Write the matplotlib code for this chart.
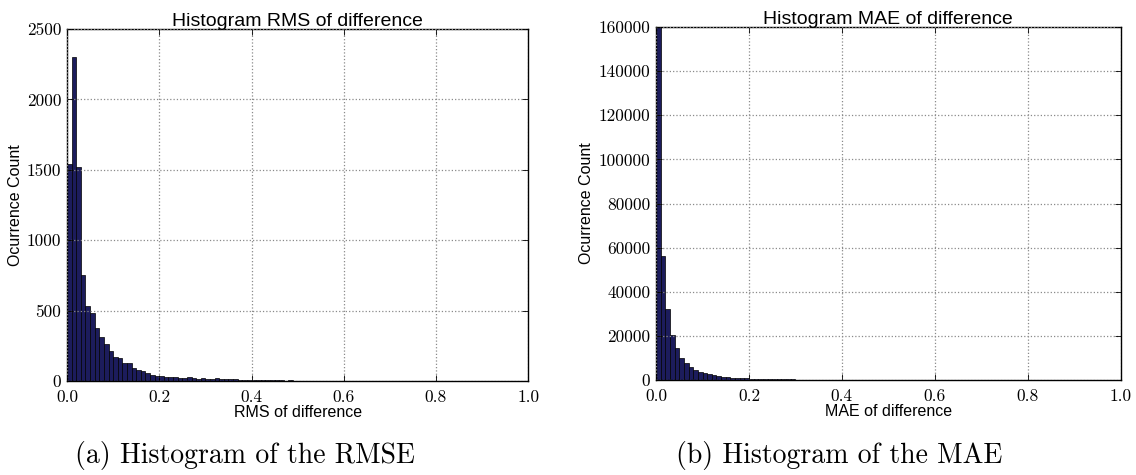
import numpy as np
import matplotlib
matplotlib.use("Agg")
import matplotlib.pyplot as plt

# Histogram counts, 100 bins of width 0.01 over [0, 1]
rmsCounts = [1540, 2300, 1520, 750, 530, 480, 375, 310, 265, 215,
             170, 160, 130, 125, 95, 80, 68, 55, 45, 38,
             32, 30, 28, 30, 24, 22, 26, 19, 17, 20,
             15, 16, 18, 13, 14, 12, 11, 10, 9, 8,
             7, 6, 6, 5, 5, 4, 4, 3, 4, 3,
             3, 3, 2, 3, 2, 2, 2, 3, 2, 2,
             2, 1, 2, 1, 2, 1, 1, 2, 1, 1,
             1, 2, 1, 1, 1, 1, 2, 1, 1, 1,
             1, 1, 2, 1, 1, 1, 1, 1, 1, 2,
             1, 1, 1, 1, 1, 1, 1, 1, 1, 1]
maeCounts = [160000, 56000, 32000, 20500, 14500, 10200, 7600, 5900, 4600, 3700,
             3000, 2500, 2100, 1800, 1500, 1300, 1100, 950, 830, 720,
             630, 560, 500, 440, 400, 360, 320, 290, 260, 240,
             215, 195, 180, 165, 150, 140, 128, 118, 108, 100,
             92, 85, 80, 74, 68, 63, 59, 55, 51, 48,
             45, 42, 39, 37, 35, 33, 31, 29, 27, 26,
             24, 23, 22, 21, 20, 19, 18, 17, 16, 15,
             14, 14, 13, 12, 12, 11, 11, 10, 10, 9,
             9, 8, 8, 8, 7, 7, 7, 6, 6, 6,
             6, 5, 5, 5, 5, 4, 4, 4, 4, 4]
binLo, binHi = 0.0, 1.0

titles = ["Histogram RMS of difference", "Histogram MAE of difference"]
xlabels = ["RMS of difference", "MAE of difference"]
ylabel = "Ocurrence Count"
captions = ["(a) Histogram of the RMSE", "(b) Histogram of the MAE"]
yticks = [np.arange(0, 2501, 500), np.arange(0, 160001, 20000)]
xticks = [0.0, 0.2, 0.4, 0.6, 0.8, 1.0]

sansFont = "Liberation Sans"
serifFont = "cmr10"
barColor = "#1c1c5c"

fig = plt.figure(figsize=(11.36, 4.75), dpi=100)
axRects = [[0.059, 0.198, 0.406, 0.741], [0.5775, 0.200, 0.409, 0.743]]
captionX = [245/1136, 839/1136]

for i, counts in enumerate([rmsCounts, maeCounts]):
    ax = fig.add_axes(axRects[i])
    counts = np.array(counts)
    edges = np.linspace(binLo, binHi, len(counts)+1)
    ax.bar(edges[:-1], counts, width=edges[1]-edges[0], align="edge",
           color=barColor, edgecolor="black", linewidth=0.5)
    ax.set_xlim(binLo, binHi)
    ax.set_ylim(yticks[i][0], yticks[i][-1])
    ax.set_xticks(xticks)
    ax.set_yticks(yticks[i])
    ax.set_xticklabels(["%.1f" % t for t in xticks], fontfamily=serifFont, fontsize=12.5)
    ax.set_yticklabels([str(t) for t in yticks[i]], fontfamily=serifFont, fontsize=12.5,
                       va="center_baseline")
    ax.tick_params(axis="x", direction="in", length=4, width=0.6, top=True, pad=6)
    ax.tick_params(axis="y", direction="in", length=4, width=0.6, right=True, pad=4)
    ax.grid(True, linestyle=":", color="#8a8a8a", linewidth=0.9)
    ax.set_axisbelow(False)
    for s in ax.spines.values():
        s.set_linewidth(1.0)
    ax.set_title(titles[i], fontfamily=sansFont, fontsize=14, pad=2)
    ax.set_xlabel(xlabels[i], fontfamily=sansFont, fontsize=11.5, labelpad=0)
    ax.set_ylabel(ylabel, fontfamily=sansFont, fontsize=11.5, labelpad=3)
    fig.text(captionX[i], 0.04, captions[i], fontfamily=serifFont, fontsize=20,
             ha="center", va="center")

fig.savefig("out.png", dpi=100)
